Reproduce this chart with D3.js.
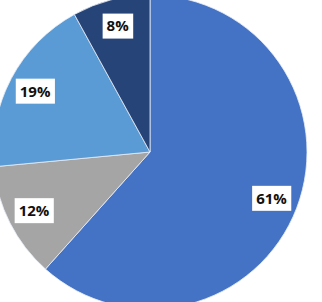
<!DOCTYPE html>
<html>
<head>
<meta charset="utf-8">
<script src="https://cdn.jsdelivr.net/npm/d3@7"></script>
<style>
  html, body { margin: 0; padding: 0; background: #fff; }
  svg { display: block; }
</style>
</head>
<body>
<svg id="chart" width="322" height="302"></svg>
<script>
var categories = ["A", "B", "C", "D"]
var values = [61.6, 11.9, 18.5, 8.0]
var labels = ["61%", "12%", "19%", "8%"]
var colors = ["#4472c4", "#a5a5a5", "#5b9bd5", "#264478"]

var width = 322, height = 302
var cx = 150, cy = 152, radius = 157

var svg = d3.select("#chart")
var g = svg.append("g").attr("transform", "translate(" + cx + "," + cy + ")")

var data = categories.map(function (c, i) {
  return { name: c, value: values[i], label: labels[i], color: colors[i] }
})

var pie = d3.pie()
  .sort(null)
  .value(function (d) { return d.value })

var arc = d3.arc().innerRadius(0).outerRadius(radius)
var labelArc = d3.arc().innerRadius(130).outerRadius(130)

var arcs = pie(data)

g.selectAll("path.slice")
  .data(arcs)
  .enter()
  .append("path")
  .attr("class", "slice")
  .attr("d", arc)
  .attr("fill", function (d) { return d.data.color })
  .attr("stroke", "#e8eef6")
  .attr("stroke-width", 0.8)

// labels: white boxes with bold text
var lab = g.selectAll("g.lab")
  .data(arcs)
  .enter()
  .append("g")
  .attr("class", "lab")
  .attr("transform", function (d) {
    var c = labelArc.centroid(d)
    return "translate(" + c[0] + "," + c[1] + ")"
  })

var rects = lab.append("rect").attr("fill", "#fff")

var texts = lab.append("text")
  .attr("text-anchor", "middle")
  .attr("dy", "0.36em")
  .attr("font-family", "'Open Sans', sans-serif")
  .attr("font-weight", "bold")
  .attr("font-size", 15)
  .attr("fill", "#111")
  .text(function (d) { return d.data.label })

texts.each(function (d, i) {
  var bb = this.getBBox()
  d3.select(rects.nodes()[i])
    .attr("x", bb.x - 4)
    .attr("y", -12.5)
    .attr("width", bb.width + 8)
    .attr("height", 25)
})
</script>
</body>
</html>
